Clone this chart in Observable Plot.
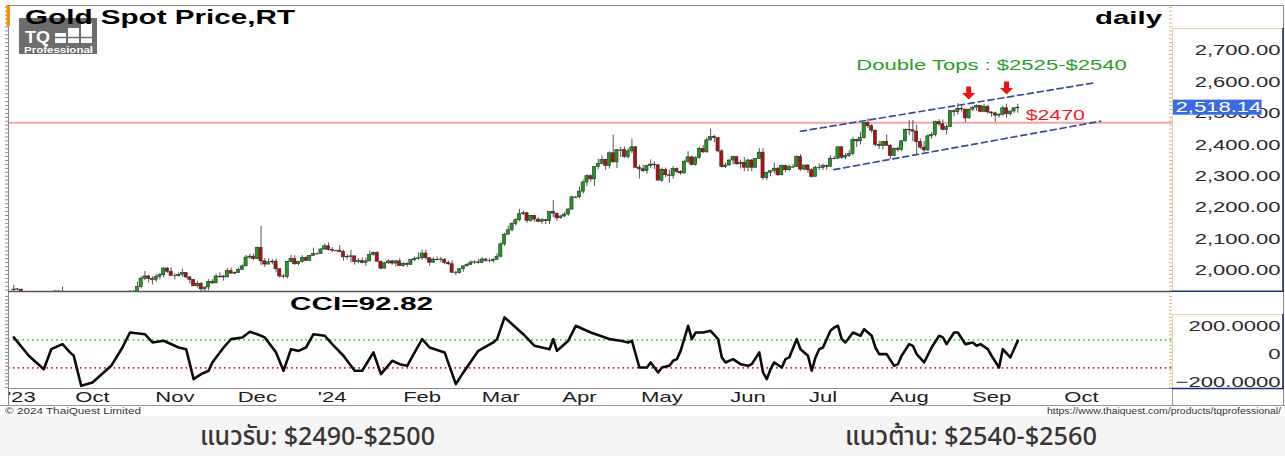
<!DOCTYPE html>
<html>
<head>
<meta charset="utf-8">
<script src="https://cdn.jsdelivr.net/npm/d3@7"></script>
<script src="https://cdn.jsdelivr.net/npm/@observablehq/plot@0.6"></script>
<style>
  html, body { margin: 0; padding: 0; }
  body { width: 1285px; height: 456px; position: relative; overflow: hidden; background: #f5f5f5; }
  #frame { position: absolute; left: 0; top: 0; width: 1285px; height: 416px; background: #fff; }
  .plot { position: absolute; left: 0; }
  #overlay { position: absolute; left: 0; top: 0; pointer-events: none; }
</style>
</head>
<body>
<div id="frame"></div>
<div id="price" class="plot" style="top:5px"></div>
<div id="cci" class="plot" style="top:292px"></div>
<svg id="overlay" width="1285" height="456"></svg>
<script>
// ---------------- DATA (daily XAU/USD, first bar = 1 Sep 2023, one bar per weekday) ----------------
const open = [
1940,1940,1939,1926,1916,1919,1919,1922,1913,1908,1910,1924,1933,1931,1930,1920,1925,1916,1900,1875,1865,
1848,1828,1822,1821,1820,1833,1861,1861,1874,1868,1932,1920,1923,1947,1974,1981,1973,1970,1980,1985,2006,1996,
1983,1982,1986,1992,1978,1970,1950,1958,1940,1946,1963,1959,1981,1981,1978,1998,1990,1992,2002,2013,2041,2044,
2036,2072,2029,2019,2026,2028,2004,1981,1980,2027,2036,2020,2027,2040,2031,2046,2053,2053,2067,2077,2065,
2063,2063,2059,2042,2043,2045,2027,2030,2024,2029,2049,2056,2028,2006,2023,2029,2022,2029,2014,2021,2018,2033,2036,
2039,2054,2039,2025,2035,2035,2034,2024,2020,1993,1992,2004,2013,2018,2025,2026,2024,2035,2031,2030,2034,
2044,2083,2114,2128,2148,2160,2179,2182,2158,2174,2162,2155,2160,2157,2186,2181,2166,2172,2178,2194,2233,
2233,2251,2280,2300,2290,2329,2339,2352,2333,2373,2344,2383,2383,2361,2379,2392,2327,2322,2316,2332,2337,2335,
2286,2320,2303,2301,2323,2314,2309,2346,2360,2336,2358,2386,2376,2414,2425,2421,2379,2329,2334,2350,2361,2338,2343,
2327,2350,2327,2355,2375,2294,2311,2316,2324,2303,2333,2319,2329,2329,2361,2321,2334,2319,2298,2327,
2326,2332,2330,2356,2356,2392,2359,2364,2371,2415,2411,2422,2469,2459,2445,2400,2396,2409,2397,2364,2387,2384,2411,
2447,2446,2442,2409,2391,2382,2427,2431,2472,2465,2447,2456,2507,2504,2514,2512,2484,2512,2518,2524,2505,2521,
2503,2500,2493,2495,2516,2497,2506,2516];
const high = [
1953,1943,1941,1930,1924,1930,1930,1926,1915,1914,1928,1937,1936,1947,1933,1933,1926,1917,1902,1879,1880,
1850,1830,1829,1826,1835,1865,1867,1875,1885,1933,1937,1937,1963,1980,1997,1985,1980,1988,1990,2009,2010,2008,
1990,1993,2004,1994,1980,1971,1965,1961,1947,1971,1971,1988,1993,1984,2007,2008,1995,2008,2018,2048,2052,2052,
2075,2141,2038,2037,2035,2036,2006,1987,2028,2048,2047,2029,2047,2044,2048,2071,2056,2069,2084,2088,2073,
2064,2079,2065,2050,2064,2046,2038,2040,2040,2062,2059,2060,2030,2025,2034,2033,2032,2037,2025,2025,2035,2044,2056,
2065,2065,2041,2040,2043,2041,2038,2031,2031,1997,2006,2015,2022,2031,2031,2035,2041,2038,2037,2037,2053,
2088,2119,2141,2152,2165,2195,2189,2185,2175,2176,2168,2165,2163,2188,2223,2182,2176,2185,2197,2236,2236,
2266,2288,2305,2305,2330,2354,2365,2354,2378,2431,2384,2392,2393,2388,2418,2394,2336,2335,2335,2352,2346,2336,
2326,2326,2319,2331,2326,2318,2351,2378,2364,2362,2392,2398,2422,2450,2430,2422,2385,2342,2352,2364,2362,2351,2360,
2354,2354,2357,2388,2388,2313,2318,2342,2327,2335,2335,2335,2337,2365,2368,2335,2336,2324,2331,2339,
2339,2335,2365,2363,2392,2393,2372,2381,2424,2418,2440,2469,2483,2465,2446,2411,2410,2431,2400,2390,2394,2413,2451,
2477,2477,2462,2419,2410,2431,2439,2475,2480,2479,2463,2509,2510,2531,2525,2513,2513,2521,2527,2525,2529,2525,
2504,2504,2500,2523,2529,2507,2518,2529];
const low = [
1932,1936,1922,1915,1915,1915,1918,1909,1905,1901,1909,1922,1926,1927,1913,1919,1911,1896,1873,1857,1846,
1827,1815,1816,1813,1810,1830,1853,1857,1868,1867,1910,1908,1920,1941,1968,1960,1954,1962,1970,1976,1991,1983,
1970,1979,1979,1974,1957,1948,1944,1932,1931,1935,1956,1958,1975,1966,1976,1990,1988,1991,2001,2012,2036,2031,
2034,2016,2010,2018,2018,1994,1976,1974,1973,2024,2016,2015,2023,2028,2030,2044,2052,2051,2064,2062,2058,
2062,2056,2030,2033,2024,2017,2021,2021,2013,2028,2046,2028,2002,2005,2019,2017,2011,2013,2010,2010,2016,2028,2032,
2032,2033,2014,2023,2030,2025,2018,2016,1990,1984,1988,1995,2012,2016,2019,2020,2022,2026,2024,2024,2032,
2039,2077,2114,2123,2142,2155,2175,2150,2154,2154,2152,2146,2146,2146,2168,2157,2163,2168,2172,2192,2230,
2228,2243,2267,2281,2268,2320,2337,2319,2323,2342,2324,2360,2357,2355,2371,2325,2291,2312,2306,2325,2321,2285,
2280,2295,2277,2291,2308,2303,2306,2340,2333,2332,2354,2372,2373,2412,2406,2374,2326,2325,2333,2336,2334,2323,2315,
2314,2314,2325,2353,2287,2286,2298,2307,2300,2302,2311,2316,2326,2328,2316,2318,2309,2293,2298,2318,
2318,2319,2329,2353,2354,2353,2352,2360,2365,2392,2400,2418,2452,2437,2393,2385,2384,2395,2353,2362,2376,2378,2409,
2429,2410,2364,2385,2376,2380,2418,2425,2459,2444,2432,2455,2489,2495,2504,2470,2482,2505,2506,2502,2502,2498,
2488,2472,2485,2491,2485,2491,2500,2500];
const close = [
1940,1939,1926,1916,1919,1919,1922,1913,1908,1910,1924,1933,1931,1930,1920,1925,1916,1900,1875,1865,1848,
1828,1822,1821,1820,1833,1861,1861,1874,1868,1932,1920,1923,1947,1974,1981,1973,1970,1980,1985,2006,1996,1983,
1982,1986,1992,1978,1970,1950,1958,1940,1946,1963,1959,1981,1981,1978,1998,1990,1992,2002,2013,2041,2044,2036,
2072,2029,2019,2026,2028,2004,1981,1980,2027,2036,2020,2027,2040,2031,2046,2053,2053,2067,2077,2065,2063,
2063,2059,2042,2043,2045,2027,2030,2024,2029,2049,2056,2028,2006,2023,2029,2022,2029,2014,2021,2018,2033,2036,2039,
2054,2039,2025,2035,2035,2034,2024,2020,1993,1992,2004,2013,2018,2025,2026,2024,2035,2031,2030,2034,2044,
2083,2114,2128,2148,2160,2179,2182,2158,2174,2162,2155,2160,2157,2186,2181,2166,2172,2178,2194,2233,2233,
2251,2280,2300,2290,2329,2339,2352,2333,2373,2344,2383,2383,2361,2379,2392,2327,2322,2316,2332,2337,2335,2286,
2320,2303,2301,2323,2314,2309,2346,2360,2336,2358,2386,2376,2414,2425,2421,2379,2329,2334,2350,2361,2338,2343,2327,
2350,2327,2355,2375,2294,2311,2316,2324,2303,2333,2319,2329,2329,2361,2321,2334,2319,2298,2327,2326,
2332,2330,2356,2356,2392,2359,2364,2371,2415,2411,2422,2469,2459,2445,2400,2396,2409,2397,2364,2387,2384,2411,2447,
2446,2442,2409,2391,2382,2427,2431,2472,2465,2447,2456,2507,2504,2514,2512,2484,2512,2518,2524,2505,2521,2503,
2500,2493,2495,2516,2497,2506,2516,2518.14];

// CCI readings (bar index, value)
const cciIdx = [0,4,8,10,13,15,16,18,21,26,29,31,35,37,40,44,46,48,50,52,53,56,58,61,63,65,67,70,72,74,76,78,80,83,85,88,91,93,96,98,
101,103,105,107,109,111,115,118,120,124,128,129,131,136,139,143,144,145,148,150,154,159,162,164,165,167,169,170,171,172,
173,175,176,177,178,180,181,182,184,186,188,189,190,192,194,196,197,199,200,201,202,203,205,206,207,209,210,212,213,214,
215,216,218,219,220,221,222,224,226,227,229,230,231,233,235,236,237,239,240,241,243,245,247,248,249,251,252,254,256,257,
258,260,261,263,264,266,267,268];
const cciVal = [117,-14,-110,33,69,10,-14,-229,-205,-86,45,152,140,81,93,45,33,-181,-145,-121,-62,45,105,117,157,140,117,10,-121,33,
21,45,140,129,69,-14,-121,-121,10,-145,-50,-74,-86,10,105,45,10,-217,-133,21,81,105,260,140,57,33,105,21,93,200,
152,105,93,81,93,-98,-98,-62,-98,-133,-98,-86,-50,-38,21,200,105,152,152,164,105,-26,-62,-38,-74,-86,-74,10,-133,-181,
-110,-62,-98,-38,-26,105,33,-14,-121,-26,33,45,164,188,200,105,81,152,129,176,129,45,-2,-2,-86,-74,-14,69,57,-2,
-62,45,129,117,69,152,152,69,81,57,69,33,-14,-98,33,-26,33,92.82];

const monthLabels  = ["'23","Oct","Nov","Dec","'24","Feb","Mar","Apr","May","Jun","Jul","Aug","Sep","Oct"];
const monthTickIdx = [2, 21, 43, 65, 85, 109, 130, 151, 173, 196, 216, 239, 261, 285];
const priceTicks = [2000, 2100, 2200, 2300, 2400, 2500, 2600, 2700];
const cciTicks = [200, 0, -200];
const cciBands = [100, -100];
const supportLevel = 2470;
const lastPrice = 2518.14;
const cciLast = 92.82;
const upperTrend = [[210, 2443], [288.3, 2597]];
const lowerTrend = [[218.9, 2321], [290.1, 2475]];
const topArrows = [[254.9, 2565], [265, 2581]];
const doubleTopsNote = {i: 261, p: 2652, text: "Double Tops : $2525-$2540"};
const levelNote = {i: 270.1, p: 2495, text: "$2470"};
const titleText = "Gold Spot Price,RT";
const periodText = "daily";
const supportText = "แนวรับ: $2490-$2500";
const resistText = "แนวต้าน: $2540-$2560";

// ---------------- CHART ----------------
const FONT = "'Liberation Sans', Arial, Helvetica, sans-serif";
const GREEN = "#1c9c1c", RED = "#b40f0f";
const X0 = -1.415, X1 = 309.3;
const candles = close.map((c, i) => ({i, open: open[i], high: high[i], low: low[i], close: c}));
const cciSeries = cciIdx.map((i, k) => ({i, v: cciVal[k]}));

const downArrow = {
  draw(ctx, size) {
    const r = Math.sqrt(size / Math.PI);
    ctx.moveTo(-0.38 * r, -r); ctx.lineTo(0.38 * r, -r); ctx.lineTo(0.38 * r, 0);
    ctx.lineTo(r, 0); ctx.lineTo(0, r); ctx.lineTo(-r, 0); ctx.lineTo(-0.38 * r, 0); ctx.closePath();
  }
};
const fmtPrice = d3.format(",.2f");

const pricePlot = Plot.plot({
  width: 1285, height: 286,
  marginLeft: 8, marginRight: 113, marginTop: 0, marginBottom: 0,
  x: {domain: [X0, X1], axis: null},
  y: {domain: [1933.2, 2843.2], axis: null},
  style: {fontFamily: FONT, background: "transparent", overflow: "visible"},
  marks: [
    Plot.ruleY(d3.range(1937.5, 2843, 12.5), {x1: X1 - 0.8, x2: X1, stroke: "#cdbb85", strokeWidth: 1}),
    Plot.ruleY(d3.range(1937.5, 2843, 12.5), {x1: X0 - 0.8, x2: X0, stroke: "#888", strokeWidth: 1}),
    Plot.ruleY([supportLevel], {stroke: "#f6a5a5", strokeWidth: 2}),
    Plot.line(upperTrend, {x: d => d[0], y: d => d[1], stroke: "#3a4c98", strokeWidth: 1.7, strokeDasharray: "6,4"}),
    Plot.line(lowerTrend, {x: d => d[0], y: d => d[1], stroke: "#3a4c98", strokeWidth: 1.7, strokeDasharray: "6,4"}),
    Plot.ruleX(candles, {x: "i", y1: "low", y2: "high", stroke: "#555", strokeWidth: 1, clip: true}),
    Plot.rect(candles, {x1: d => d.i - 0.42, x2: d => d.i + 0.42, y1: "open", y2: "close",
      fill: d => d.close >= d.open ? GREEN : RED, stroke: "#2a2a2a", strokeWidth: 0.6, clip: true}),
    Plot.ruleY(candles.filter(d => Math.abs(d.close - d.open) < 0.5),
      {x1: d => d.i - 0.5, x2: d => d.i + 0.5, y: "close", stroke: "#2a2a2a", strokeWidth: 1, clip: true}),
    Plot.dot(topArrows, {x: d => d[0], y: d => d[1], r: 6.5, symbol: downArrow, fill: "#ee1111", stroke: "none"}),
    Plot.text([doubleTopsNote], {x: "i", y: "p", text: "text", fill: "#2a9e2a", fontSize: 15, textAnchor: "middle"}),
    Plot.text([levelNote], {x: "i", y: "p", text: "text", fill: "#ee1c25", fontSize: 14.5, textAnchor: "start"}),
    Plot.text(priceTicks, {y: d => d, frameAnchor: "right", dx: 108, textAnchor: "end", text: fmtPrice, fontSize: 15, fill: "#2a2a2a"}),
    Plot.rect([lastPrice], {x1: X1 + 0.15, x2: X1 + 0.15 + 89 / 3.746, y1: d => d - 24, y2: d => d + 24, fill: "#3b6be3"}),
    Plot.text([lastPrice], {y: d => d, frameAnchor: "right", dx: 3, textAnchor: "start", text: fmtPrice, fontSize: 15, fill: "#fff"})
  ]
});

const cciPlot = Plot.plot({
  width: 1285, height: 113,
  marginLeft: 8, marginRight: 113, marginTop: 0, marginBottom: 17,
  x: {domain: [X0, X1], axis: null},
  y: {domain: [-247.9, 437.9], axis: null},
  style: {fontFamily: FONT, background: "transparent", overflow: "visible"},
  marks: [
    Plot.ruleY(d3.range(-240, 430, 25), {x1: X1 - 0.8, x2: X1, stroke: "#cdbb85", strokeWidth: 1}),
    Plot.ruleY(d3.range(-240, 430, 25), {x1: X0 - 0.8, x2: X0, stroke: "#888", strokeWidth: 1}),
    Plot.ruleY([cciBands[0]], {stroke: "#33dd33", strokeWidth: 1.7, strokeDasharray: "1.6,3.2"}),
    Plot.ruleY([cciBands[1]], {stroke: "#e82222", strokeWidth: 1.7, strokeDasharray: "1.6,3.2"}),
    Plot.line(cciSeries, {x: "i", y: "v", stroke: "#0c0c0c", strokeWidth: 2.6, strokeLinejoin: "round"}),
    Plot.text(cciTicks, {y: d => d, frameAnchor: "right", dx: 108, textAnchor: "end",
      text: d => d === 0 ? "0" : d3.format(".4f")(d), fontSize: 15, fill: "#2a2a2a"}),
    Plot.text(monthLabels, {x: (d, k) => monthTickIdx[k], frameAnchor: "bottom", dy: 9, lineAnchor: "middle",
      textAnchor: "middle", fontSize: 15, fill: "#1e1e1e"})
  ]
});

document.getElementById("price").appendChild(pricePlot);
document.getElementById("cci").appendChild(cciPlot);

function stretch(svg, factor) {
  svg.querySelectorAll("text").forEach(t => {
    const w = t.getComputedTextLength();
    if (w > 0) { t.setAttribute("textLength", (w * factor).toFixed(1)); t.setAttribute("lengthAdjust", "spacingAndGlyphs"); }
  });
}
stretch(pricePlot, 1.47);
stretch(cciPlot, 1.47);

// ---------------- OVERLAY: frame, logo, titles, footer ----------------
const ov = d3.select("#overlay");
function ln(x1, y1, x2, y2, stroke, w = 1) {
  ov.append("line").attr("x1", x1).attr("y1", y1).attr("x2", x2).attr("y2", y2).attr("stroke", stroke).attr("stroke-width", w);
}
function txt(s, o) {
  const t = ov.append("text").attr("x", o.x).attr("y", o.y).attr("font-size", o.size)
    .attr("font-weight", o.weight || "normal").attr("fill", o.fill || "#000")
    .attr("font-family", o.family || FONT).text(s);
  if (o.width) t.attr("textLength", o.width).attr("lengthAdjust", "spacingAndGlyphs");
  return t;
}
const NAVY = "#1d2f78", TAN = "#e3d39c";
ln(6, 5.5, 1284, 5.5, "#8a8a8a");
ln(8.5, 5, 8.5, 405, "#8a8a8a");
ln(1283.5, 5, 1283.5, 405, "#8a8a8a");
ln(8, 291.5, 1172, 291.5, "#555", 1.5);
ln(8, 388.5, 1172, 388.5, "#888");
ln(0, 405.5, 1285, 405.5, "#9a9a9a");
ln(1172.5, 388, 1172.5, 405, "#9a9a9a");
ln(1172.5, 28, 1172.5, 291, TAN); ln(1172, 28.5, 1283, 28.5, TAN);
ln(1283, 28, 1283, 292, NAVY, 1.6); ln(1172, 291.2, 1284, 291.2, NAVY, 1.6);
ln(1172.5, 314, 1172.5, 388, TAN); ln(1172, 314.5, 1283, 314.5, TAN);
ln(1283, 314, 1283, 389, NAVY, 1.6); ln(1172, 388.5, 1284, 388.5, NAVY, 1.6);
ov.append("rect").attr("x", 6.5).attr("y", 5).attr("width", 3.5).attr("height", 21).attr("fill", "#f39200");
ov.append("rect").attr("x", 19).attr("y", 18).attr("width", 78).attr("height", 36).attr("fill", "#6d6d6d");
txt("TQ", {x: 25, y: 43, size: 16, weight: "bold", fill: "#fff", width: 25});
[[55, 33, 10], [68, 28, 15], [81, 23, 20]].forEach(([x, y, h]) => {
  ov.append("rect").attr("x", x).attr("y", y).attr("width", 11).attr("height", h).attr("fill", "#fff");
});
ln(54, 37.5, 93, 37.5, "#6d6d6d", 1.5);
txt("Professional", {x: 24, y: 52.5, size: 9, weight: "bold", fill: "#fff", width: 69});
txt(titleText, {x: 25, y: 24, size: 20, weight: "bold", fill: "#000", width: 270});
txt(periodText, {x: 1095, y: 23.5, size: 19, weight: "bold", fill: "#000", width: 67});
txt(`CCI=${cciLast}`, {x: 290, y: 310, size: 18, weight: "bold", fill: "#000", width: 143});
txt("© 2024 ThaiQuest Limited", {x: 5, y: 414, size: 9.5, fill: "#333", width: 136});
txt("https://www.thaiquest.com/products/tqprofessional/", {x: 1047, y: 414, size: 9, fill: "#333", width: 234});
const THAI = "'Noto Sans Thai', 'Noto Sans Thai UI', 'Sarabun', 'Garuda', 'Loma', 'Tlwg Typo', 'Noto Sans', 'DejaVu Sans', sans-serif";
txt(supportText, {x: 200, y: 445, size: 26, weight: 500, fill: "#3b3434", width: 235, family: THAI});
txt(resistText, {x: 845, y: 445, size: 26, weight: 500, fill: "#3b3434", width: 252, family: THAI});
</script>
</body>
</html>
